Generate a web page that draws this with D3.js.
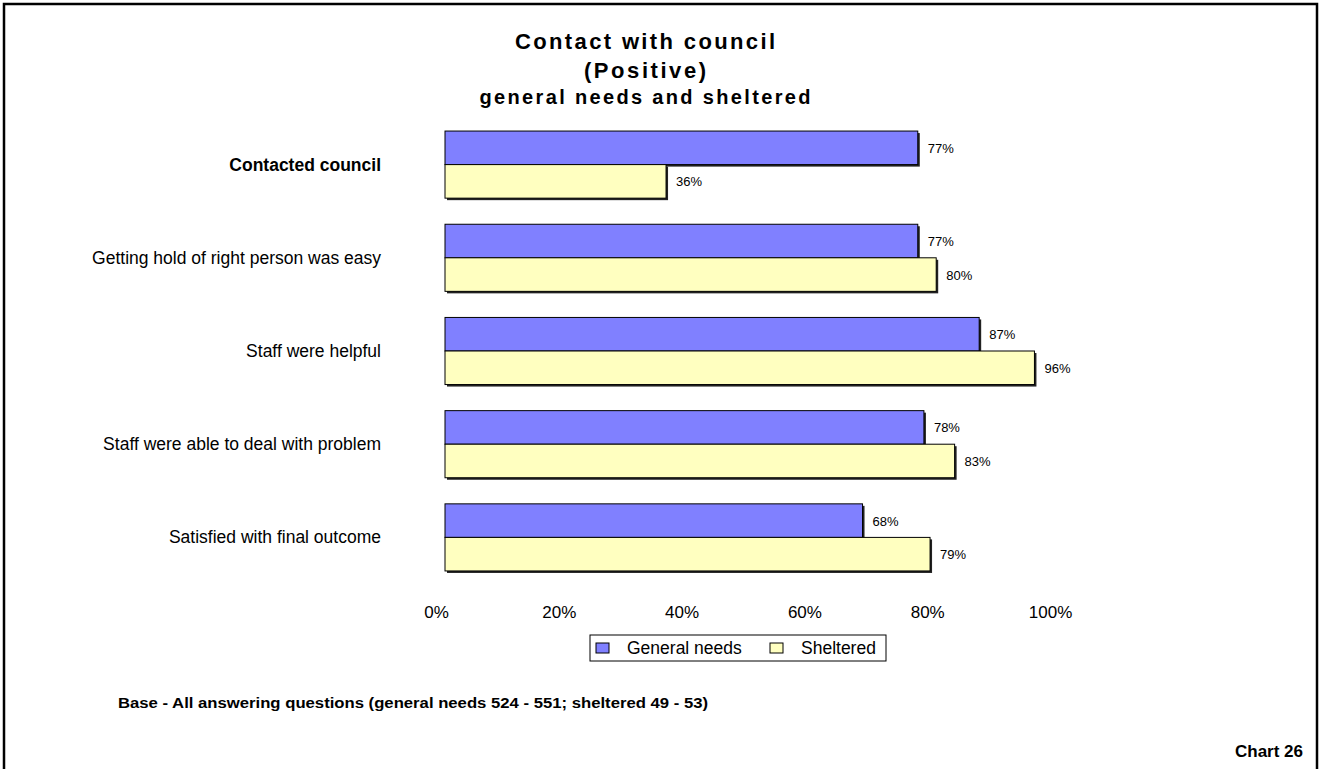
<!DOCTYPE html>
<html>
<head>
<meta charset="utf-8">
<script src="https://cdn.jsdelivr.net/npm/d3@7"></script>
<style>
  html, body { margin: 0; padding: 0; background: #fff; }
  svg { display: block; font-family: "Liberation Sans", Arial, sans-serif; }
</style>
</head>
<body>
<svg id="chart" width="1321" height="769"></svg>
<script>
// Survey results: share of positive answers by tenant group
const categories = [
  "Contacted council",
  "Getting hold of right person was easy",
  "Staff were helpful",
  "Staff were able to deal with problem",
  "Satisfied with final outcome"
];
const seriesNames = ["General needs", "Sheltered"];
const generalNeeds = [77, 77, 87, 78, 68];
const sheltered = [36, 80, 96, 83, 79];
const tickValues = [0, 20, 40, 60, 80, 100];
const seriesColors = ["#8080FF", "#FFFFC0"];

const svg = d3.select("#chart");

// outer frame
svg.append("rect")
  .attr("x", 4).attr("y", 4)
  .attr("width", 1313).attr("height", 790)
  .attr("fill", "none").attr("stroke", "#000").attr("stroke-width", 2.5);

// titles (widened with textLength to the drawn width)
const titles = [
  { t: "Contact with council", y: 49, s: 22, w: 260 },
  { t: "(Positive)", y: 78, s: 22, w: 122 },
  { t: "general needs and sheltered", y: 104, s: 20, w: 331 }
];
svg.selectAll("text.title").data(titles).join("text")
  .attr("class", "title")
  .attr("x", 645).attr("y", d => d.y)
  .attr("text-anchor", "middle")
  .attr("font-size", d => d.s).attr("font-weight", "bold")
  .attr("textLength", d => d.w).attr("lengthAdjust", "spacing")
  .text(d => d.t);

const x = d3.scaleLinear().domain([0, 100]).range([445, 1059]);
const y = d3.scaleBand().domain(categories).range([118, 584]).paddingInner(0.28).paddingOuter(0.14);
const ySub = d3.scaleBand().domain(seriesNames).range([0, y.bandwidth()]);

const rows = categories.map((c, i) => ({ cat: c, vals: [generalNeeds[i], sheltered[i]] }));

const groups = svg.selectAll("g.cat").data(rows).join("g")
  .attr("class", "cat")
  .attr("transform", d => `translate(0,${y(d.cat)})`);

const bars = groups.selectAll("g.bar")
  .data(d => d.vals.map((v, j) => ({ v, s: seriesNames[j], j })))
  .join("g").attr("class", "bar");

// drop shadow on the right / bottom edge
bars.append("rect")
  .attr("x", x(0) + 2)
  .attr("y", d => ySub(d.s) + 2)
  .attr("width", d => x(d.v) - x(0))
  .attr("height", ySub.bandwidth())
  .attr("fill", "#222");

bars.append("rect")
  .attr("x", x(0))
  .attr("y", d => ySub(d.s))
  .attr("width", d => x(d.v) - x(0))
  .attr("height", ySub.bandwidth())
  .attr("fill", d => seriesColors[d.j])
  .attr("stroke", "#000").attr("stroke-width", 1);

bars.append("text")
  .attr("x", d => x(d.v) + 10)
  .attr("y", d => ySub(d.s) + ySub.bandwidth() / 2 + 5)
  .attr("font-size", 13)
  .text(d => d.v + "%");

// category labels
svg.selectAll("text.catlabel").data(categories).join("text")
  .attr("class", "catlabel")
  .attr("x", 381)
  .attr("y", d => y(d) + y.bandwidth() / 2 + 6)
  .attr("text-anchor", "end")
  .attr("font-size", 17.5)
  .attr("font-weight", (d, i) => i === 0 ? "bold" : "normal")
  .text(d => d);

// value axis (labels only)
const axis = d3.axisBottom(x).tickValues(tickValues).tickFormat(d => d + "%").tickSize(0);
const axG = svg.append("g").attr("transform", "translate(-9,598)").call(axis);
axG.select(".domain").remove();
axG.selectAll("text").attr("font-size", 17).attr("font-family", "Liberation Sans, Arial, sans-serif").attr("fill", "#000").attr("dy", "0.71em").attr("y", 8);

// legend
const lg = svg.append("g").attr("transform", "translate(590,635)");
lg.append("rect").attr("width", 296).attr("height", 26)
  .attr("fill", "#fff").attr("stroke", "#000").attr("stroke-width", 1);
const items = lg.selectAll("g.item").data(seriesNames).join("g")
  .attr("class", "item")
  .attr("transform", (d, i) => `translate(${i === 0 ? 6 : 180},0)`);
items.append("rect").attr("x", 0).attr("y", 8).attr("width", 13).attr("height", 10)
  .attr("fill", (d, i) => seriesColors[i]).attr("stroke", "#000").attr("stroke-width", 1);
items.append("text").attr("x", 31).attr("y", 19).attr("font-size", 17.5).text(d => d);

// footnotes
svg.append("text").attr("x", 118).attr("y", 708)
  .attr("font-size", 14).attr("font-weight", "bold")
  .attr("textLength", 590).attr("lengthAdjust", "spacingAndGlyphs")
  .text("Base - All answering questions (general needs 524 - 551; sheltered 49 - 53)");
svg.append("text").attr("x", 1303).attr("y", 757)
  .attr("text-anchor", "end")
  .attr("font-size", 17).attr("font-weight", "bold")
  .text("Chart 26");
</script>
</body>
</html>
